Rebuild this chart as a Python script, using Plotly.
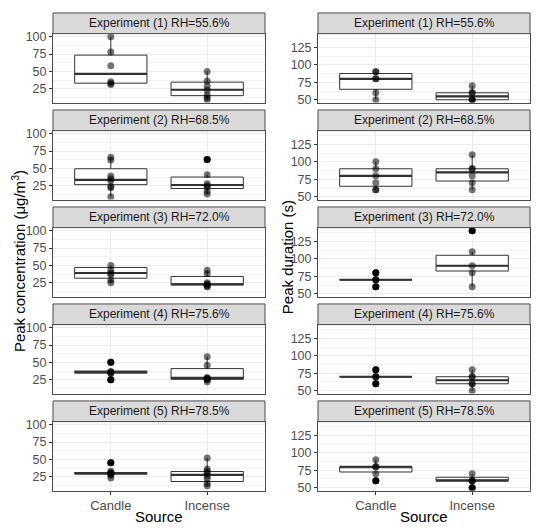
import plotly.graph_objects as go

# facet labels and categories
experiments = ["Experiment (1) RH=55.6%", "Experiment (2) RH=68.5%", "Experiment (3) RH=72.0%",
               "Experiment (4) RH=75.6%", "Experiment (5) RH=78.5%"]
sources = ["Candle", "Incense"]

# peak concentration (ug/m3) - individual points per experiment
conc_candle = [[100, 78, 58, 35, 33, 31],
               [66, 62, 39, 35, 32, 24, 22, 9],
               [50, 43, 39, 37, 29, 25],
               [50, 37, 36, 35, 34, 25],
               [45, 33, 31, 30, 29, 27, 23]]
conc_incense = [[50, 36, 29, 23, 16, 12, 9],
                [63, 41, 28, 25, 23, 17, 13],
                [43, 38, 25, 23, 22, 20, 19],
                [58, 46, 28, 27, 26, 25, 22],
                [52, 36, 33, 30, 26, 22, 15, 12]]
# box stats: (lower whisker, q1, median, q3, upper whisker)
conc_candle_box = [(31, 33, 46.5, 73.5, 100), (9, 26.5, 33.5, 49.5, 66), (25, 31.5, 39, 47, 50),
                   (34.5, 34.5, 36, 37.5, 37.5), (23, 28.8, 29.8, 31, 33)]
conc_incense_box = [(9, 15, 23.5, 34.5, 50), (13, 21, 26, 37.5, 41), (19, 22, 22.5, 34, 43),
                    (21, 25.5, 27.5, 41, 58), (12, 18, 27.5, 32.5, 52)]
conc_candle_out = [[], [], [], [50, 25], [45]]
conc_incense_out = [[], [63], [], [], []]

# peak duration (s)
dur_candle = [[90, 90, 80, 80, 60, 50],
              [100, 90, 80, 70, 60, 60],
              [80, 70, 70, 70, 60],
              [80, 70, 70, 70, 60],
              [90, 80, 80, 70, 60]]
dur_incense = [[70, 60, 60, 50, 50, 50],
               [110, 90, 90, 80, 70, 60],
               [140, 110, 90, 80, 60],
               [80, 70, 70, 60, 60, 50],
               [70, 60, 60, 60, 50]]
dur_candle_box = [(50, 65, 80, 87.5, 90), (60, 65, 80, 90, 100), (70, 70, 70, 70, 70),
                  (70, 70, 70, 70, 70), (70, 72.5, 80, 80, 90)]
dur_incense_box = [(50, 50, 55, 60, 70), (60, 72.5, 85, 90, 110), (60, 82.5, 90, 105, 110),
                   (50, 60, 65, 70, 80), (60, 60, 60, 65, 70)]
dur_candle_out = [[], [], [80, 60], [80, 60], [60]]
dur_incense_out = [[], [], [140], [], [50]]

# page has an 8px body margin, so the figure is drawn 8px smaller and shifted
OFF = 8
W, H = 550 - OFF, 530 - OFF
FONT = "Liberation Sans, Arial, sans-serif"
BOXW = 0.75

col_x = [(53, 265), (318, 530)]
col_range = [[5, 104.5], [46, 144.5]]


def px_x(p):
    return (p - OFF) / W


def px_y(p):
    return 1 - (p - OFF) / H


def label(text, x, y, size, color="black", angle=0):
    return dict(text=text, xref="paper", yref="paper", x=px_x(x), y=px_y(y),
                xanchor="center", yanchor="middle", textangle=angle, showarrow=False,
                font=dict(size=size, color=color))


fig = go.Figure()
layout = dict(width=W, height=H, margin=dict(l=0, r=0, t=0, b=0),
              paper_bgcolor="white", plot_bgcolor="white", showlegend=False,
              font=dict(family=FONT), shapes=[], annotations=[])

columns = [
    (conc_candle, conc_incense, conc_candle_box, conc_incense_box, conc_candle_out, conc_incense_out),
    (dur_candle, dur_incense, dur_candle_box, dur_incense_box, dur_candle_out, dur_incense_out),
]

for r in range(5):
    top = 31 + 98.5 * r
    bot = 101 + 98.5 * r
    for c in range(2):
        k = r * 2 + c + 1
        xa = "x" if k == 1 else "x%d" % k
        ya = "y" if k == 1 else "y%d" % k
        x0, x1 = col_x[c]
        layout["xaxis" if k == 1 else "xaxis%d" % k] = dict(
            domain=[px_x(x0), px_x(x1)], anchor=ya, range=[-0.6, 1.6],
            tickvals=list(range(len(sources))), ticktext=sources,
            showticklabels=(r == 4), ticks="outside" if r == 4 else "",
            ticklen=3, tickcolor="#333333",
            tickfont=dict(size=13, color="#4D4D4D"),
            showgrid=True, gridcolor="#EBEBEB", gridwidth=1, zeroline=False,
            showline=True, mirror=True, linecolor="#4D4D4D", linewidth=1)
        layout["yaxis" if k == 1 else "yaxis%d" % k] = dict(
            domain=[px_y(bot), px_y(top)], anchor=xa, range=col_range[c],
            tick0=0, dtick=25, ticks="outside", ticklen=3, tickcolor="#333333",
            tickfont=dict(size=12.5, color="#4D4D4D"),
            showgrid=True, gridcolor="#EBEBEB", gridwidth=1, zeroline=False,
            minor=dict(dtick=12.5, tick0=0, showgrid=True, gridcolor="#F2F2F2", gridwidth=0.6),
            showline=True, mirror=True, linecolor="#4D4D4D", linewidth=1)

        # strip
        layout["shapes"].append(dict(type="rect", xref="paper", yref="paper",
                                     x0=px_x(x0), x1=px_x(x1), y0=px_y(top), y1=px_y(top - 21),
                                     fillcolor="#D9D9D9", line=dict(color="#4D4D4D", width=1)))
        layout["annotations"].append(label(experiments[r], (x0 + x1) / 2, top - 10.5, 12, "#1A1A1A"))

        data = columns[c]
        for i, s in enumerate(sources):
            pts = data[i][r]
            lo, q1, med, q3, hi = data[2 + i][r]
            outs = data[4 + i][r]
            fig.add_trace(go.Box(x=[i], q1=[q1], median=[med], q3=[q3], lowerfence=[lo],
                                 upperfence=[hi], width=BOXW, whiskerwidth=0, fillcolor="white",
                                 line=dict(color="#333333", width=1), boxpoints=False,
                                 xaxis=xa, yaxis=ya, hoverinfo="skip"))
            fig.add_trace(go.Scatter(x=[i - BOXW / 2, i + BOXW / 2], y=[med, med], mode="lines",
                                     line=dict(color="#333333", width=2.2),
                                     xaxis=xa, yaxis=ya, hoverinfo="skip"))
            if outs:
                fig.add_trace(go.Scatter(x=[i] * len(outs), y=outs, mode="markers",
                                         marker=dict(size=7, color="black"),
                                         xaxis=xa, yaxis=ya, hoverinfo="skip"))
            fig.add_trace(go.Scatter(x=[i] * len(pts), y=pts, mode="markers",
                                     marker=dict(size=7, color="rgba(0,0,0,0.55)"),
                                     xaxis=xa, yaxis=ya))

# axis titles
layout["annotations"] += [
    label("Peak concentration (μg/m<sup>3</sup>)", 18, 262, 15, angle=-90),
    label("Peak duration (s)", 287, 258, 15, angle=-90),
    label("Source", 159, 521, 15),
    label("Source", 424, 521, 15),
]

fig.update_layout(**layout)
fig.write_html("out.html")
